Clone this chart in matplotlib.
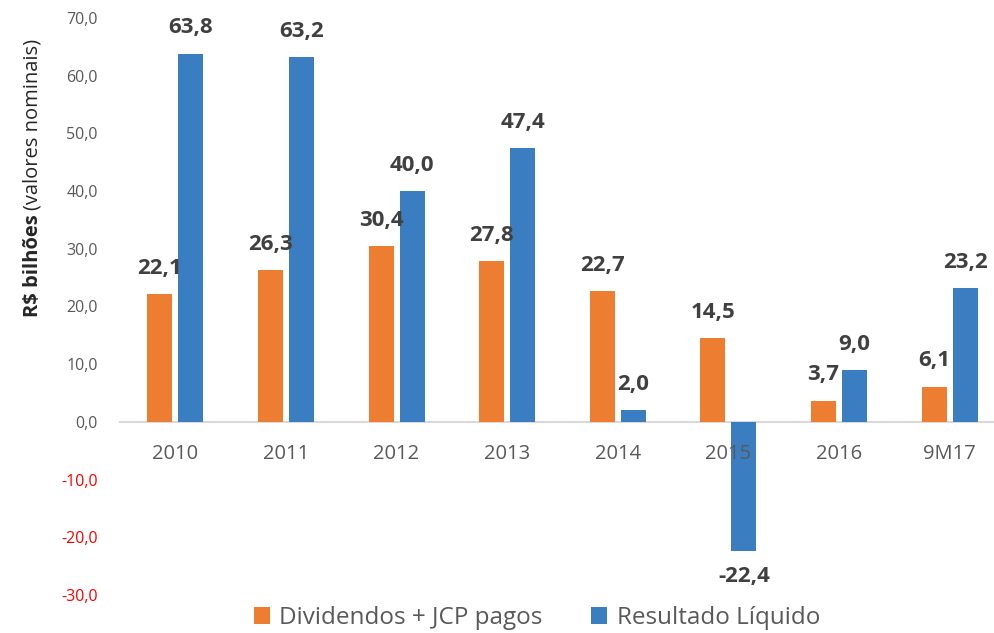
import matplotlib.pyplot as plt
import numpy as np

plt.rcParams['font.family'] = ['Open Sans', 'DejaVu Sans']

categorias = ['2010', '2011', '2012', '2013', '2014', '2015', '2016', '9M17']
dividendos = [22.1, 26.3, 30.4, 27.8, 22.7, 14.5, 3.7, 6.1]
resultado = [63.8, 63.2, 40.0, 47.4, 2.0, -22.4, 9.0, 23.2]
yticks = [-30, -20, -10, 0, 10, 20, 30, 40, 50, 60, 70]

cor_div = '#ED7D31'
cor_res = '#3A7DC0'
cinza = '#595959'

W, H = 995, 633
fig = plt.figure(figsize=(W / 100, H / 100), dpi=100)
ax = fig.add_axes([120 / W, 1 - 595 / H, (1005 - 120) / W, (595 - 18) / H])

x = np.arange(len(categorias))
larg = 0.226
desl = 0.14
b1 = ax.bar(x - desl, dividendos, larg, color=cor_div, label='Dividendos + JCP pagos', zorder=1)
b2 = ax.bar(x + desl, resultado, larg, color=cor_res, label='Resultado Líquido', zorder=1)

for barras, vals in ((b1, dividendos), (b2, resultado)):
    for b, v in zip(barras, vals):
        cx = b.get_x() + b.get_width() / 2
        txt = f'{v:.1f}'.replace('.', ',')
        if v >= 0:
            ax.annotate(txt, (cx, v), xytext=(0, 11), textcoords='offset points',
                        ha='center', va='bottom', fontsize=16, fontweight='bold', color='#404040')
        else:
            ax.annotate(txt, (cx, v), xytext=(0, -11), textcoords='offset points',
                        ha='center', va='top', fontsize=16, fontweight='bold', color='#404040')

ax.set_xlim(-0.5, len(categorias) - 0.5)
ax.set_ylim(-30, 70)
ax.set_yticks(yticks)
ax.set_yticklabels([f'{t:.1f}'.replace('.', ',') for t in yticks])
for lab, t in zip(ax.get_yticklabels(), yticks):
    lab.set_color('#FF0000' if t < 0 else cinza)
ax.tick_params(axis='y', length=0, pad=16, labelsize=11.5)

ax.spines['bottom'].set_position(('data', 0))
ax.spines['bottom'].set_color('#D9D9D9')
ax.spines['bottom'].set_linewidth(1.5)
ax.spines['bottom'].set_zorder(0.5)
for s in ('top', 'right', 'left'):
    ax.spines[s].set_visible(False)
ax.set_xticks(x)
ax.set_xticklabels(categorias)
ax.tick_params(axis='x', length=0, pad=16, labelsize=14.5, labelcolor=cinza)

t1 = fig.text(33 / W, 1 - 317 / H, 'R$ bilhões', rotation=90, ha='center', va='bottom',
              fontsize=14.5, fontweight='bold', color='#262626')
ax.annotate('(valores nominais)', xy=(0.5, 1), xycoords=t1, xytext=(0, 3),
            textcoords='offset points', rotation=90, ha='center', va='bottom',
            fontsize=14.5, color='#262626', annotation_clip=False)

leg = fig.legend(handles=[b1, b2], loc='center', bbox_to_anchor=(537 / W, 1 - 618 / H),
                 ncol=2, frameon=False, fontsize=17.5, handlelength=0.65, handleheight=0.65,
                 handletextpad=0.4, columnspacing=2.0, labelcolor=cinza)

fig.savefig('out.png', dpi=100)
